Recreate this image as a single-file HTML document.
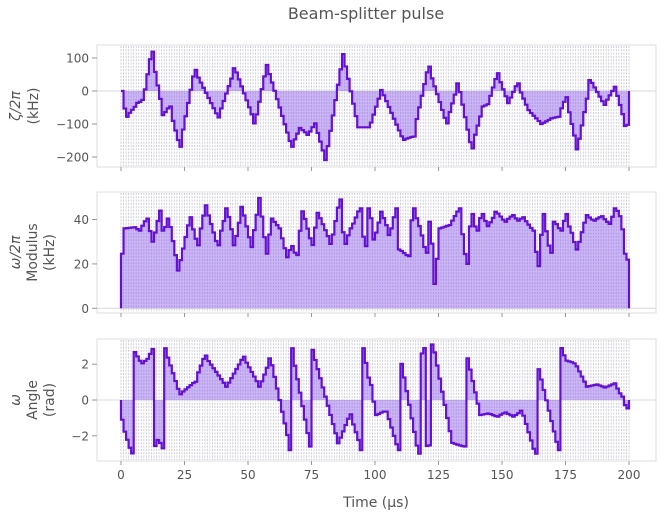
<!DOCTYPE html>
<html><head><meta charset="utf-8"><style>
html,body{margin:0;padding:0;background:#fff;}
svg{display:block;font-family:"DejaVu Sans","Liberation Sans",sans-serif;}
</style></head><body>
<svg id="s" width="661" height="517" xmlns="http://www.w3.org/2000/svg"></svg>
<script>
var NS="http://www.w3.org/2000/svg",S=document.getElementById('s');
function el(t,a,txt){var e=document.createElementNS(NS,t);for(var k in a)e.setAttribute(k,a[k]);if(txt!=null)e.textContent=txt;S.appendChild(e);return e;}
var X0=121,X1=629;function X(t){return X0+(X1-X0)*t/200;}
var P1=[[0,0],[2.2,-78],[6.8,-36],[8.8,-27],[12,119],[16.7,-73],[19,-47],[23.2,-169],[29,64],[38.3,-80],[44.9,69],[52.8,-98],[57.4,79],[67.2,-169],[70.5,-112],[73.7,-133],[76.4,-98],[80.6,-209],[87.5,112],[93.4,-110],[97.9,-110],[102.6,3],[111.1,-148],[115,-138],[121,74],[128.2,-98],[132.8,23],[138,-174],[142.6,-47],[144.5,-40],[148.2,54],[152.5,-37],[156,23],[160.4,-58],[165.6,-100],[169.6,-83],[172.2,-78],[175.2,-19],[179.7,-177],[184.9,33],[190.3,-42],[194.5,13],[198.8,-106],[200,-100]];
var P2=[[0,24.6],[1.5,36],[5.4,36.5],[7.4,35],[10.1,40.4],[12.7,30],[15.4,44],[16.9,35],[18.9,40.4],[22.6,17],[27.2,41],[30.2,28.4],[33.3,46.4],[38,28.4],[41.8,45],[44.8,28.4],[47.7,45.7],[51.4,27.6],[54.6,49.7],[57.3,24.6],[59.5,40.4],[62.5,36],[65.4,23],[67.1,28],[69,24],[71.7,43.7],[75.2,28.5],[77.6,43],[82.8,29],[86.1,49],[88,29],[90.7,36],[94,45],[96,28],[97.9,45],[99.8,31],[102.6,43.5],[105.9,33],[108.3,45],[109.8,26.5],[113,23.5],[115,45],[117.7,37],[120,25],[121.9,39],[123.6,11],[125.6,36],[129.5,37.5],[133.2,45],[136,20],[138,42.5],[140,35],[142,42.5],[144.6,37],[147.9,43.5],[151.2,39],[154.2,42],[156.4,39.5],[158.3,41],[162.3,35],[164.3,19],[166.3,42.5],[169,25],[170.9,39],[173.1,35],[175.5,42.5],[177,34],[179.7,26.5],[183.3,42],[186,39.5],[189.3,41.5],[192.3,38],[194.9,45],[196.8,41.5],[198.8,24.6],[200,20]];
var P3=[[0,-1.1],[4.2,-2.98],[4.6,2.89],[8.1,2.05],[10.7,2.3],[12.3,2.85],[12.7,-2.8],[14.7,-2.23],[16.9,-2.7],[17.3,2.89],[23.2,0.32],[29.1,1.02],[33,2.48],[41.6,0.74],[48.2,2.42],[54.7,0.74],[58.9,2.33],[66.8,-2.8],[67.2,2.89],[74.5,-2.6],[75.4,2.8],[85.6,-2.42],[90.2,-0.8],[94.8,-2.8],[95.5,2.89],[98,0.84],[100.7,-0.84],[103.3,-0.65],[104.6,-0.65],[109.2,-2.8],[109.6,2.7],[117.1,-3.0],[117.5,2.8],[118.5,2.6],[119,2.9],[119.6,-2.6],[122.5,-2.5],[122.9,3.1],[130.4,-2.4],[135,-2.6],[135.6,2.9],[141.5,-0.84],[144.8,-0.75],[148,-0.93],[151.3,-0.7],[154.6,-0.93],[157.9,-0.6],[163.1,-3.0],[163.5,2.3],[172.3,-2.8],[173,2.9],[175.6,2.2],[178.9,2.05],[183.5,0.74],[187.4,0.87],[190.7,0.7],[194.4,0.93],[197.2,0.19],[199,-0.47],[200,-0.3]];
function interp(P,t){if(t<=P[0][0])return P[0][1];for(var i=1;i<P.length;i++){if(t<=P[i][0]){var a=P[i-1],b=P[i];return a[1]+(b[1]-a[1])*(t-a[0])/(b[0]-a[0]);}}return P[P.length-1][1];}
function sample(P,i){var m=interp(P,i+0.5),best=m,bd=0;P.forEach(function(p){if(p[0]>=i&&p[0]<i+1){var d=Math.abs(p[1]-m);if(d>bd){bd=d;best=p[1];}}});return best;}
function panel(top,bot,P,yf,ticks,labels){
 el('rect',{x:97,y:top,width:559,height:bot-top,fill:'#fff',stroke:'#dcdcdc','stroke-width':1});
 var d='';for(var i=0;i<=200;i++){var x=X(i).toFixed(2);d+='M'+x+' '+(top+1)+'V'+(bot-1);}
 el('path',{d:d,stroke:'#c8c8d4','stroke-width':0.9,'stroke-dasharray':'2 1.3',fill:'none'});
 el('line',{x1:97,x2:656,y1:yf(0),y2:yf(0),stroke:'#d8d8d8','stroke-width':1});
 var pts=[];var y0=yf(0);
 pts.push([X(0),y0]);
 for(var i=0;i<200;i++){var v=sample(P,i);var y=yf(v);pts.push([X(i),y]);pts.push([X(i+1),y]);}
 pts.push([X(200),y0]);
 var s=pts.map(function(p){return p[0].toFixed(2)+','+p[1].toFixed(2);}).join(' ');
 el('polygon',{points:s,fill:'rgba(140,90,235,0.45)',stroke:'none'});
 el('polyline',{points:s,fill:'none',stroke:'#6410d2','stroke-width':2.2,'stroke-linejoin':'miter'});
 ticks.forEach(function(t){var y=yf(t);el('line',{x1:92,x2:97,y1:y,y2:y,stroke:'#999'});el('text',{x:89,y:y+4.5,'text-anchor':'end','font-size':12,fill:'#555'},String(t).replace('-','\u2212'));});
 for(var k=0;k<=8;k++){var x=X(k*25);el('line',{x1:x,x2:x,y1:bot,y2:bot+4,stroke:'#999'});}
 var n=labels.length,cy=(top+bot)/2;
 labels.forEach(function(l,j){var x=n==2?[20,38][j]:[20,37,54][j];
  el('text',{x:x,y:cy,'text-anchor':'middle','font-size':14,fill:'#555',transform:'rotate(-90 '+x+' '+cy+')','font-style':l.it?'italic':'normal'},l.t);});
}
panel(45,167,P1,function(v){return 91-v*0.33;},[100,0,-100,-200],[{t:'\u03b6/2\u03c0',it:1},{t:'(kHz)'}]);
panel(192,313,P2,function(v){return 308.3-v*2.22;},[40,20,0],[{t:'\u03c9/2\u03c0',it:1},{t:'Modulus'},{t:'(kHz)'}]);
panel(339,461,P3,function(v){return 400-v*17.9;},[2,0,-2],[{t:'\u03c9',it:1},{t:'Angle'},{t:'(rad)'}]);
for(var k=0;k<=8;k++){el('text',{x:X(k*25),y:479,'text-anchor':'middle','font-size':12,fill:'#555'},String(k*25));}
el('text',{x:376,y:507,'text-anchor':'middle','font-size':14,fill:'#555'},'Time (\u00b5s)');
el('text',{x:366,y:19,'text-anchor':'middle','font-size':16,fill:'#555'},'Beam-splitter pulse');
</script>
</body></html>
